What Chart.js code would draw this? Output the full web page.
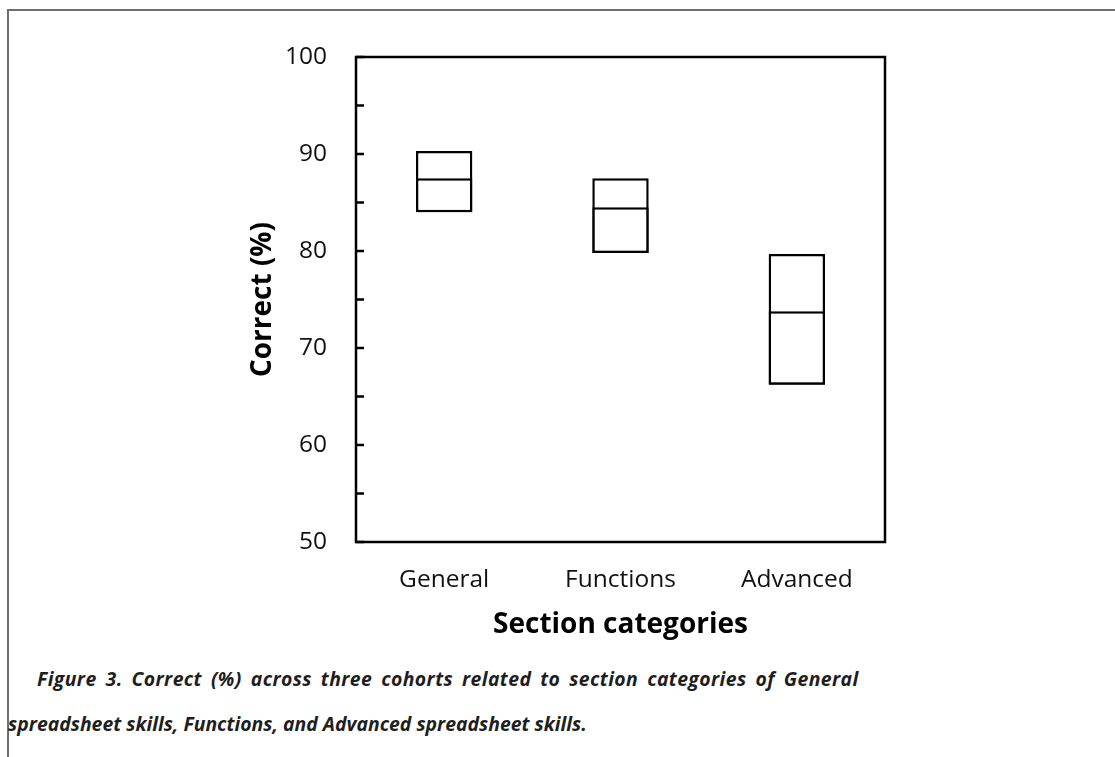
<!DOCTYPE html>
<html lang="en">
<head>
<meta charset="UTF-8">
<title>Correct (%) by section category</title>
<script src="https://cdn.jsdelivr.net/npm/chart.js@4.4.0/dist/chart.umd.min.js"></script>
<style>
  html, body { margin: 0; padding: 0; background: #fff; }
  body { width: 1115px; height: 757px; position: relative; overflow: hidden; }
  #frame { position: absolute; left: 7px; top: 9px; width: 1200px; height: 900px;
           border-left: 2px solid #6f6f6f; border-top: 2px solid #6f6f6f; }
  #wrap { position: absolute; left: 0; top: 0; width: 1115px; height: 660px; }
  .cap { position: absolute; font-family: "Open Sans", sans-serif; font-weight: 700;
         font-style: italic; font-size: 19.4px; color: #1e1e1e; white-space: nowrap; }
</style>
</head>
<body>
<div id="frame"></div>
<div id="wrap"><canvas id="chart"></canvas></div>
<div class="cap" style="left:37px; top:665px; letter-spacing:0.4px; word-spacing:3.5px;">Figure 3. Correct (%) across three cohorts related to section categories of General</div>
<div class="cap" style="left:8px; top:710px;">spreadsheet skills, Functions, and Advanced spreadsheet skills.</div>
<script>
const categories = ['General', 'Functions', 'Advanced'];
const lower = [84.0, 79.8, 66.2];
const middle = [87.5, 84.5, 73.8];
const upper = [90.3, 87.5, 79.7];
const yTickMarks = [50, 55, 60, 65, 70, 75, 80, 85, 90, 95, 100];

// frame around the plot plus small inward tick marks
const frame = {
  id: 'frame',
  afterDraw(chart) {
    const {ctx, chartArea: a, scales} = chart;
    ctx.save();
    ctx.strokeStyle = '#000';
    ctx.lineWidth = 2.5;
    ctx.strokeRect(a.left, a.top, a.right - a.left, a.bottom - a.top);
    yTickMarks.forEach(v => {
      const y = scales.y.getPixelForValue(v);
      ctx.beginPath();
      ctx.moveTo(a.left, y);
      ctx.lineTo(a.left + 8, y);
      ctx.stroke();
    });
    ctx.restore();
  }
};

const boxStyle = {
  backgroundColor: '#fff',
  borderColor: '#000',
  borderWidth: 2.5,
  borderSkipped: false,
  grouped: false,
  barPercentage: 0.32,
  categoryPercentage: 1
};

new Chart(document.getElementById('chart').getContext('2d'), {
  type: 'bar',
  data: {
    labels: categories,
    datasets: [
      // whole box underneath, lower half drawn over it so its top edge marks the middle
      Object.assign({ data: lower.map((v, i) => [v, upper[i]]), order: 2 }, boxStyle),
      Object.assign({ data: lower.map((v, i) => [v, middle[i]]), order: 1 }, boxStyle)
    ]
  },
  options: {
    responsive: true,
    maintainAspectRatio: false,
    animation: false,
    layout: { padding: { left: 240, right: 230, top: 57, bottom: 18 } },
    plugins: { legend: { display: false }, tooltip: { enabled: false } },
    scales: {
      x: {
        grid: { display: false, drawTicks: false },
        border: { display: false },
        ticks: { color: '#111', padding: 23, font: { family: 'Open Sans', size: 24.5 } },
        title: { display: true, text: 'Section categories', color: '#000', padding: 0,
                 font: { family: 'Open Sans', size: 28, weight: 'bold' } },
        afterFit(s) { s.height = 100; }
      },
      y: {
        min: 50, max: 100,
        grid: { display: false, drawTicks: false },
        border: { display: false },
        ticks: { stepSize: 10, color: '#111', padding: 29, font: { family: 'Open Sans', size: 24.5 } },
        title: { display: true, text: 'Correct (%)', color: '#000', padding: { top: 6, bottom: 0 },
                 font: { family: 'Open Sans', size: 28, weight: 'bold' } },
        afterFit(s) { s.width = 116; }
      }
    }
  },
  plugins: [frame]
});
</script>
</body>
</html>
